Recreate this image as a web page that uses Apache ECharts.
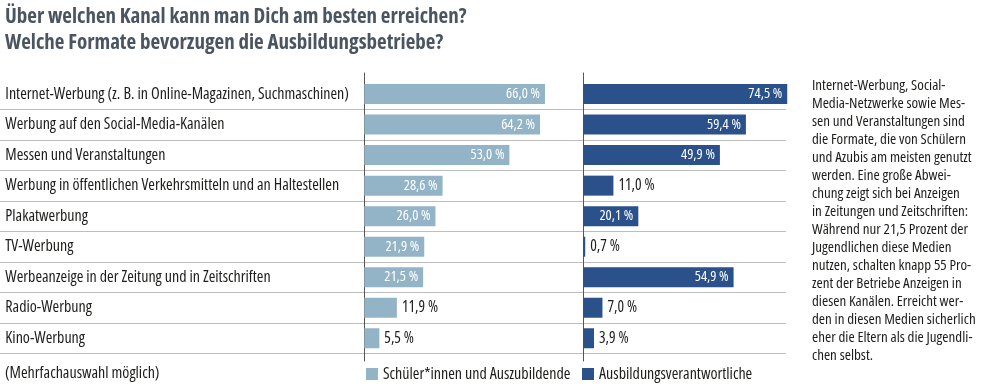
<!DOCTYPE html>
<html>
<head>
<meta charset="utf-8">
<script src="https://cdn.jsdelivr.net/npm/echarts@6/dist/echarts.min.js"></script>
<style>
html,body{margin:0;padding:0;background:#fff;}
#chart{width:983px;height:390px;}
</style>
</head>
<body>
<div id="chart"></div>
<script>
const titleLines = ['Über welchen Kanal kann man Dich am besten erreichen?', 'Welche Formate bevorzugen die Ausbildungsbetriebe?'];
const categories = [
  'Internet-Werbung (z. B. in Online-Magazinen, Suchmaschinen)',
  'Werbung auf den Social-Media-Kanälen',
  'Messen und Veranstaltungen',
  'Werbung in öffentlichen Verkehrsmitteln und an Haltestellen',
  'Plakatwerbung',
  'TV-Werbung',
  'Werbeanzeige in der Zeitung und in Zeitschriften',
  'Radio-Werbung',
  'Kino-Werbung'
];
const seriesNames = ['Schüler*innen und Auszubildende', 'Ausbildungsverantwortliche'];
const studentValues = [66.0, 64.2, 53.0, 28.6, 26.0, 21.9, 21.5, 11.9, 5.5];
const companyValues = [74.5, 59.4, 49.9, 11.0, 20.1, 0.7, 54.9, 7.0, 3.9];
const noteText = '(Mehrfachauswahl möglich)';
const paragraphLines = [
  'Internet-Werbung, Social-',
  'Media-Netzwerke sowie Mes-',
  'sen und Veranstaltungen sind',
  'die Formate, die von Schülern',
  'und Azubis am meisten genutzt',
  'werden. Eine große Abwei-',
  'chung zeigt sich bei Anzeigen',
  'in Zeitungen und Zeitschriften:',
  'Während nur 21,5 Prozent der',
  'Jugendlichen diese Medien',
  'nutzen, schalten knapp 55 Pro-',
  'zent der Betriebe Anzeigen in',
  'diesen Kanälen. Erreicht wer-',
  'den in diesen Medien sicherlich',
  'eher die Eltern als die Jugendli-',
  'chen selbst.'
];

const FONT = '"Open Sans", "Roboto", sans-serif';
const COND = 'condensed';
const LIGHT = '#93b4c7';
const DARK = '#2a5189';
const TEXT = '#1d1d1b';

const fmt = v => v.toFixed(1).replace('.', ',') + ' %';

function barData(values) {
  return values.map(v => {
    const inside = v >= 15;
    return {
      value: v,
      label: inside
        ? { position: 'insideRight', color: '#ffffff', fontSize: 14.5, distance: 5 }
        : { position: 'right', color: TEXT, fontSize: 15.5, distance: 5 }
    };
  });
}

const ROW_TOP = 78.8;
const ROW_H = 30.525;
const N = categories.length;

const chart = echarts.init(document.getElementById('chart'), null, { renderer: 'canvas' });

const hiddenX = (gi) => ({ type: 'value', gridIndex: gi, show: false, min: 0, max: 80 });

chart.setOption({
  animation: false,
  backgroundColor: '#ffffff',
  textStyle: { fontFamily: FONT, fontStyle: COND },
  title: [
    {
      text: titleLines.join('\n'),
      left: 5, top: 4, padding: 0,
      textStyle: { fontFamily: FONT, fontStyle: COND, fontWeight: 'bold', fontSize: 21, lineHeight: 26, color: '#4a5561' }
    },
    {
      text: noteText,
      left: 5, top: 365, padding: 0,
      textStyle: { fontFamily: FONT, fontStyle: COND, fontWeight: 'normal', fontSize: 16, color: TEXT }
    },
    {
      text: paragraphLines.join('\n'),
      left: 812, top: 77, padding: 0,
      textStyle: { fontFamily: FONT, fontStyle: COND, fontWeight: 'normal', fontSize: 15, lineHeight: 18, color: TEXT }
    }
  ],
  legend: [
    {
      data: [seriesNames[0]],
      left: 366, top: 366, padding: 0,
      itemWidth: 12, itemHeight: 12, icon: 'rect',
      textStyle: { fontFamily: FONT, fontStyle: COND, fontSize: 16, color: TEXT }
    },
    {
      data: [seriesNames[1]],
      left: 582, top: 366, padding: 0,
      itemWidth: 12, itemHeight: 12, icon: 'rect',
      textStyle: { fontFamily: FONT, fontStyle: COND, fontSize: 16, color: TEXT }
    }
  ],
  grid: [
    { left: 364.3, top: ROW_TOP, width: 219, height: ROW_H * N },
    { left: 583.3, top: ROW_TOP, width: 219, height: ROW_H * N },
    { left: 0, top: ROW_TOP + ROW_H, width: 786, height: ROW_H * (N - 1) },
    { left: 364.3, top: 73, width: 1, height: 288 },
    { left: 583.3, top: 73, width: 1, height: 288 }
  ],
  xAxis: [hiddenX(0), hiddenX(1), hiddenX(2), hiddenX(3), hiddenX(4)],
  yAxis: [
    {
      type: 'category', gridIndex: 0, data: categories, inverse: true,
      axisLine: { show: false }, axisTick: { show: false }, splitLine: { show: false },
      axisLabel: { show: true, align: 'left', margin: 359, fontFamily: FONT, fontStyle: COND, fontSize: 16, color: TEXT }
    },
    {
      type: 'category', gridIndex: 1, data: categories, inverse: true,
      axisLine: { show: false }, axisTick: { show: false }, axisLabel: { show: false }, splitLine: { show: false }
    },
    {
      type: 'value', gridIndex: 2, min: 0, max: N - 1, interval: 1,
      axisLine: { show: false }, axisTick: { show: false }, axisLabel: { show: false },
      splitLine: { show: true, lineStyle: { color: '#bdbdbd', width: 1 } }
    },
    {
      type: 'value', gridIndex: 3, min: 0, max: 1,
      axisLine: { show: true, lineStyle: { color: '#555555', width: 1 } },
      axisTick: { show: false }, axisLabel: { show: false }, splitLine: { show: false }
    },
    {
      type: 'value', gridIndex: 4, min: 0, max: 1,
      axisLine: { show: true, lineStyle: { color: '#555555', width: 1 } },
      axisTick: { show: false }, axisLabel: { show: false }, splitLine: { show: false }
    }
  ],
  series: [
    {
      name: seriesNames[0], type: 'bar', xAxisIndex: 0, yAxisIndex: 0,
      data: barData(studentValues), barWidth: 20,
      itemStyle: { color: LIGHT },
      label: { show: true, fontFamily: FONT, fontStyle: COND, formatter: p => fmt(p.value) }
    },
    {
      name: seriesNames[1], type: 'bar', xAxisIndex: 1, yAxisIndex: 1,
      data: barData(companyValues), barWidth: 20,
      itemStyle: { color: DARK },
      label: { show: true, fontFamily: FONT, fontStyle: COND, formatter: p => fmt(p.value) }
    }
  ]
});
</script>
</body>
</html>
